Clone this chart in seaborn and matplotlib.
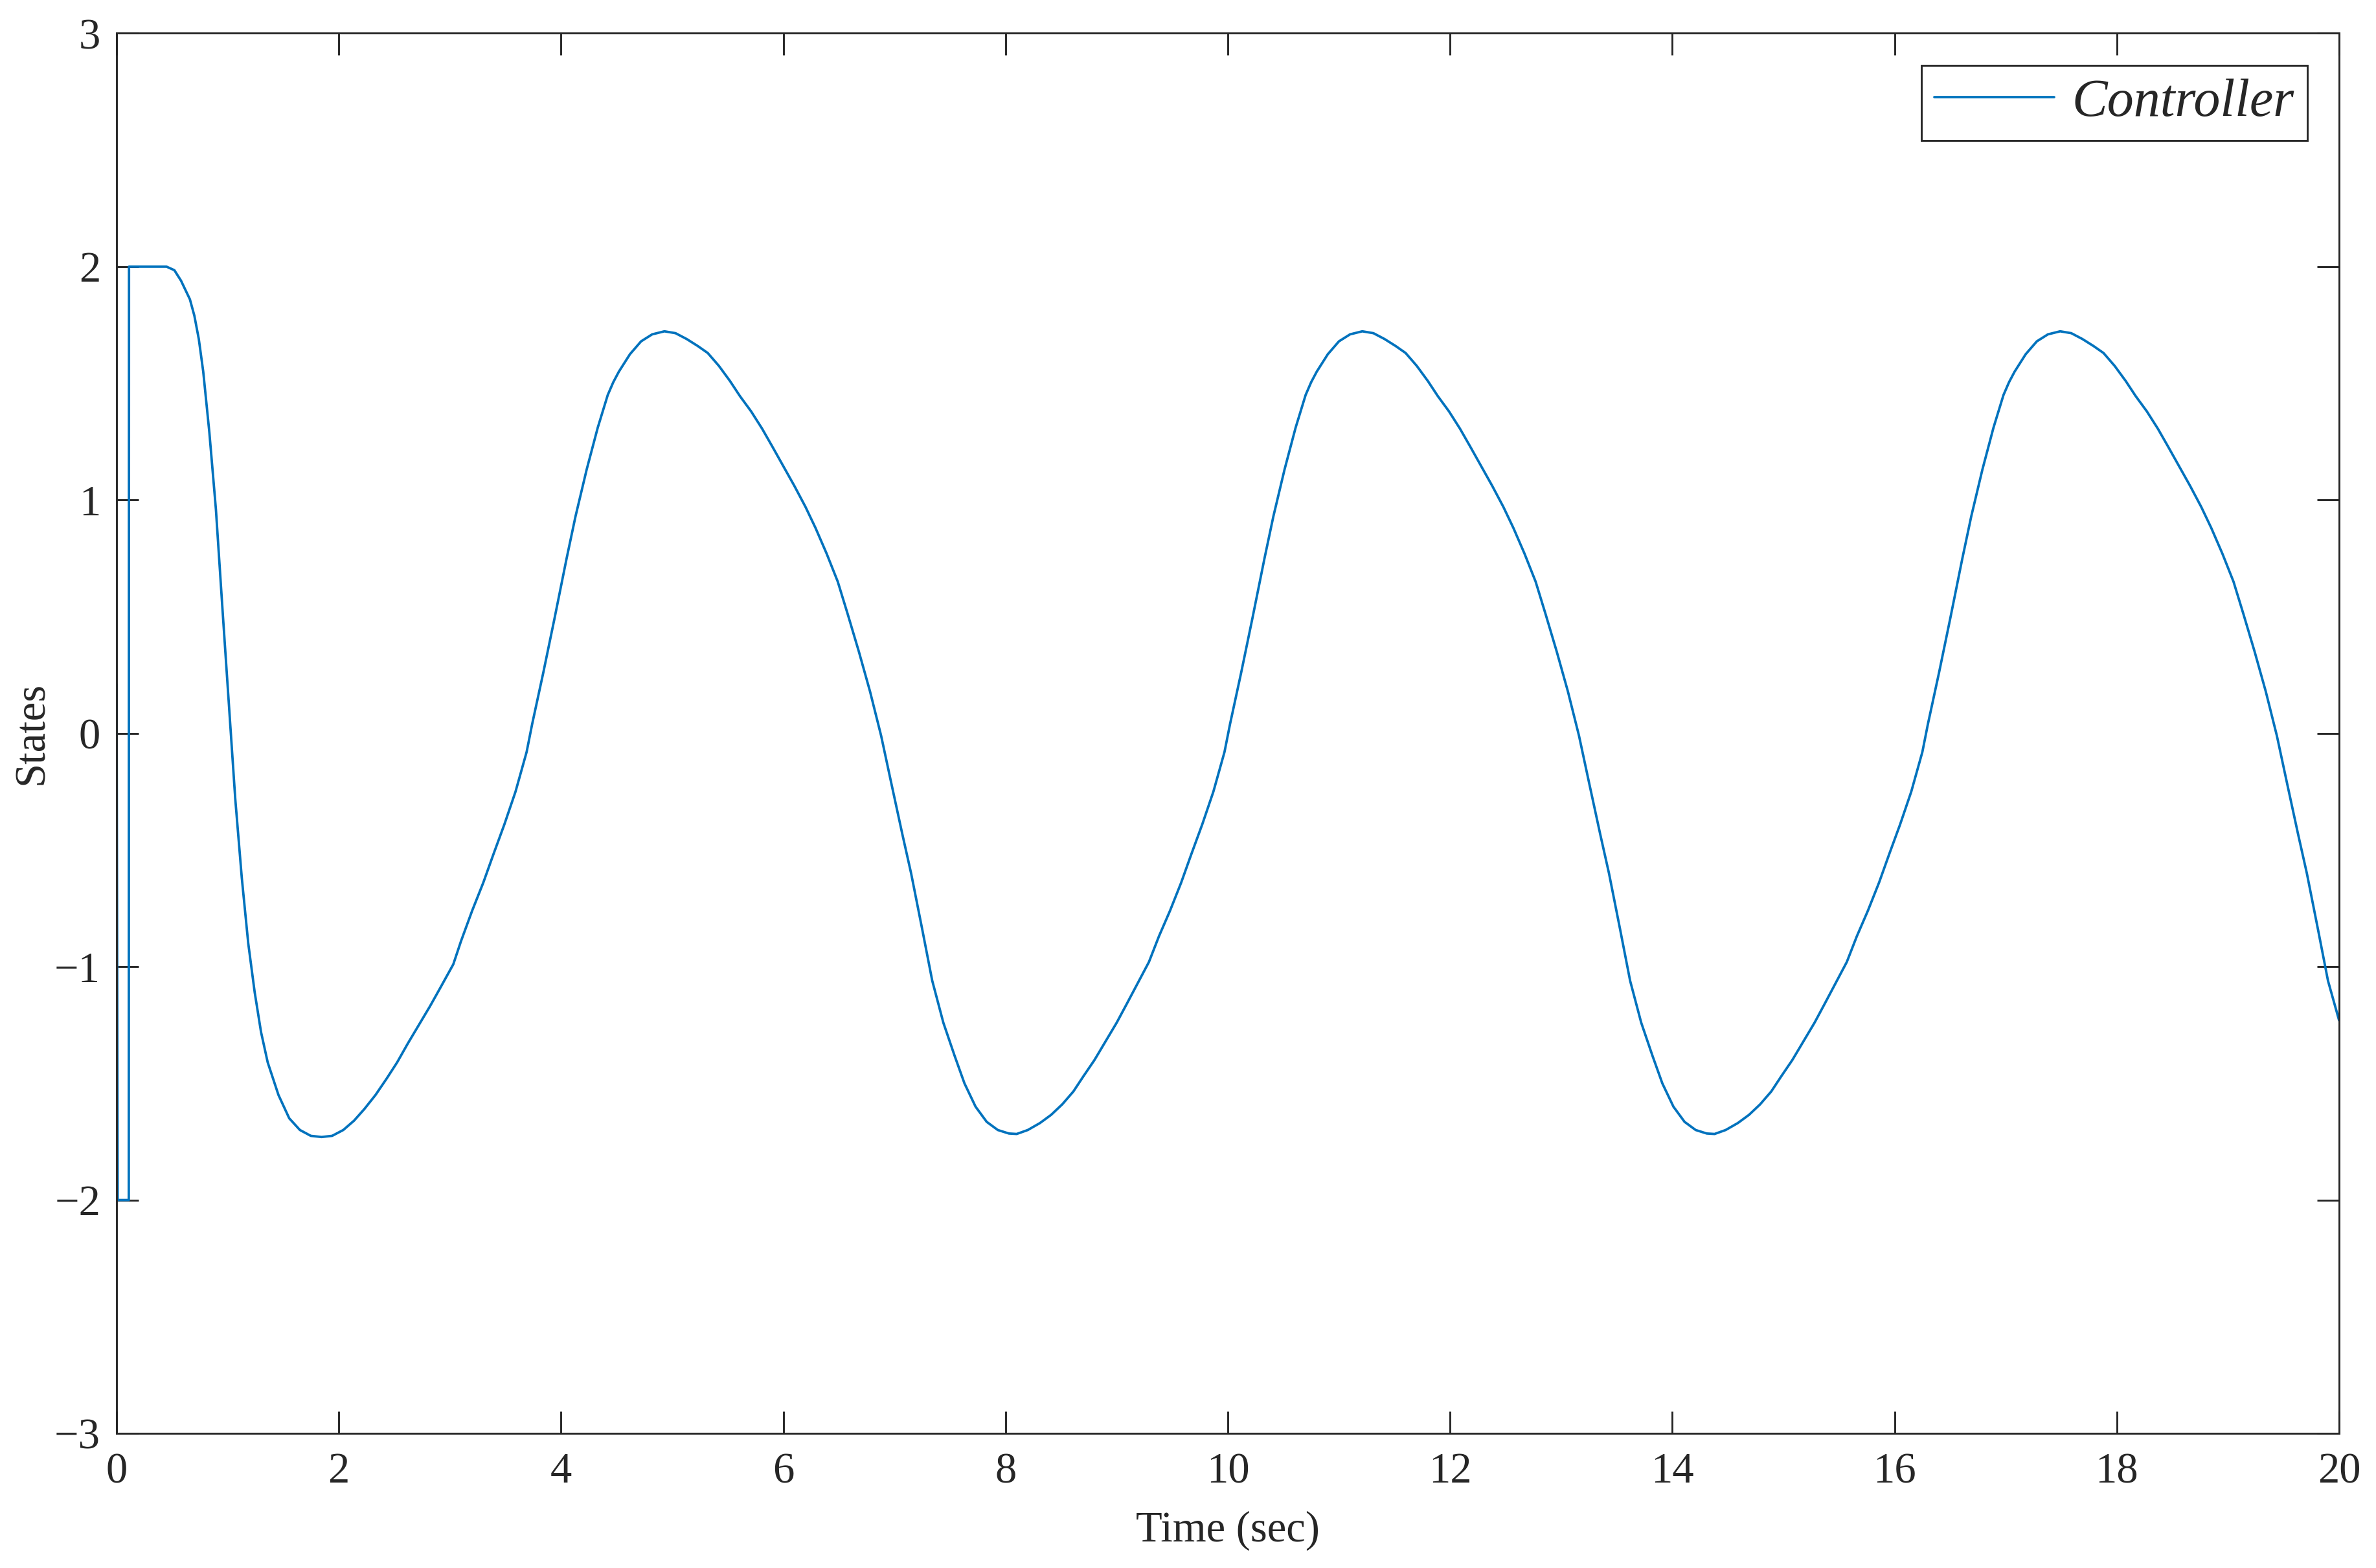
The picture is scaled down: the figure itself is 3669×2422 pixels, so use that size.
import matplotlib
matplotlib.use("Agg")
import matplotlib.pyplot as plt
import pandas as pd
import seaborn as sns

# time samples (s) and controller state
time_s = [
    0.000, 0.010, 0.110, 0.112, 0.300, 0.450, 0.520, 0.580, 0.620, 0.660,
    0.700, 0.740, 0.780, 0.835, 0.894, 0.952, 1.010, 1.068, 1.127, 1.185,
    1.243, 1.300, 1.360, 1.457, 1.554, 1.650, 1.748, 1.845, 1.940, 2.040,
    2.137, 2.230, 2.330, 2.430, 2.525, 2.620, 2.720, 2.820, 2.914, 3.030,
    3.100, 3.200, 3.300, 3.390, 3.490, 3.590, 3.690, 3.740, 3.840, 3.940,
    4.050, 4.130, 4.230, 4.330, 4.420, 4.470, 4.520, 4.620, 4.720, 4.820, 4.930,
    5.03, 5.13, 5.23, 5.32, 5.42, 5.52, 5.61, 5.71, 5.81, 5.90,
    6.00, 6.10, 6.20, 6.29, 6.39, 6.49, 6.58, 6.68, 6.78, 6.88,
    6.97, 7.07, 7.15, 7.25, 7.34, 7.44, 7.54, 7.63, 7.73, 7.83,
    7.93, 8.03, 8.10, 8.20, 8.31, 8.41, 8.51, 8.61, 8.70, 8.80,
    8.90, 9.00, 9.09, 9.19, 9.29, 9.38, 9.48, 9.58, 9.67, 9.77,
    9.87, 9.97, 10.02, 10.12, 10.22, 10.33, 10.41, 10.51, 10.61, 10.70,
    10.75, 10.80, 10.90, 11.00, 11.10, 11.21,
    11.31, 11.41, 11.51, 11.60, 11.70, 11.80, 11.89, 11.99, 12.09, 12.18,
    12.28, 12.38, 12.48, 12.57, 12.67, 12.77, 12.86, 12.96, 13.06, 13.16,
    13.25, 13.35, 13.43, 13.53, 13.62, 13.72, 13.82, 13.91, 14.01, 14.11,
    14.21, 14.31, 14.38, 14.48, 14.59, 14.69, 14.79, 14.89, 14.98, 15.08,
    15.18, 15.28, 15.37, 15.47, 15.57, 15.66, 15.76, 15.86, 15.95, 16.05,
    16.15, 16.25, 16.30, 16.40, 16.50, 16.61, 16.69, 16.79, 16.89, 16.98,
    17.03, 17.08, 17.18, 17.28, 17.38, 17.49,
    17.59, 17.69, 17.79, 17.88, 17.98, 18.08, 18.17, 18.27, 18.37, 18.46,
    18.56, 18.66, 18.76, 18.85, 18.95, 19.05, 19.14, 19.24, 19.34, 19.44,
    19.53, 19.63, 19.71, 19.81, 19.90, 20.00,
]

controller = [
    0.21, -2.00, -2.00, 2.00, 2.00, 2.00, 1.985, 1.94, 1.90, 1.86,
    1.79, 1.69, 1.55, 1.29, 0.96, 0.54, 0.13, -0.28, -0.62, -0.90,
    -1.11, -1.28, -1.41, -1.55, -1.65, -1.70, -1.725, -1.73, -1.725, -1.70,
    -1.66, -1.61, -1.55, -1.48, -1.41, -1.33, -1.25, -1.17, -1.09, -0.99,
    -0.89, -0.76, -0.64, -0.52, -0.39, -0.25, -0.08, 0.04, 0.26, 0.49,
    0.75, 0.93, 1.13, 1.31, 1.45, 1.505, 1.55, 1.625, 1.68, 1.71, 1.723,
    1.715, 1.69, 1.66, 1.63, 1.575, 1.51, 1.445, 1.38, 1.305, 1.23,
    1.145, 1.06, 0.97, 0.88, 0.77, 0.65, 0.51, 0.35, 0.18, -0.01,
    -0.21, -0.43, -0.60, -0.84, -1.06, -1.24, -1.38, -1.50, -1.60, -1.665,
    -1.70, -1.715, -1.717, -1.70, -1.67, -1.635, -1.59, -1.535, -1.47, -1.40,
    -1.32, -1.24, -1.16, -1.07, -0.98, -0.87, -0.76, -0.64, -0.52, -0.39,
    -0.25, -0.08, 0.04, 0.26, 0.49, 0.75, 0.93, 1.13, 1.31, 1.45,
    1.505, 1.55, 1.625, 1.68, 1.71, 1.723,
    1.715, 1.69, 1.66, 1.63, 1.575, 1.51, 1.445, 1.38, 1.305, 1.23,
    1.145, 1.06, 0.97, 0.88, 0.77, 0.65, 0.51, 0.35, 0.18, -0.01,
    -0.21, -0.43, -0.60, -0.84, -1.06, -1.24, -1.38, -1.50, -1.60, -1.665,
    -1.70, -1.715, -1.717, -1.70, -1.67, -1.635, -1.59, -1.535, -1.47, -1.40,
    -1.32, -1.24, -1.16, -1.07, -0.98, -0.87, -0.76, -0.64, -0.52, -0.39,
    -0.25, -0.08, 0.04, 0.26, 0.49, 0.75, 0.93, 1.13, 1.31, 1.45,
    1.505, 1.55, 1.625, 1.68, 1.71, 1.723,
    1.715, 1.69, 1.66, 1.63, 1.575, 1.51, 1.445, 1.38, 1.305, 1.23,
    1.145, 1.06, 0.97, 0.88, 0.77, 0.65, 0.51, 0.35, 0.18, -0.01,
    -0.21, -0.43, -0.60, -0.84, -1.06, -1.23,
]

x_ticks = [0, 2, 4, 6, 8, 10, 12, 14, 16, 18, 20]
y_ticks = [-3, -2, -1, 0, 1, 2, 3]


def main() -> None:
    sns.set_theme(style="white")
    plt.rcParams["font.family"] = ["Liberation Serif", "DejaVu Serif"]
    plt.rcParams["axes.unicode_minus"] = True

    axis_col = "#262626"
    df = pd.DataFrame({"t": time_s, "state": controller})

    fig = plt.figure(figsize=(3670 / 300, 2422 / 300), dpi=300)
    ax = fig.add_axes([180 / 3670, 1 - 2214 / 2422, 3432 / 3670, 2162.5 / 2422])

    sns.lineplot(
        data=df, x="t", y="state", ax=ax, sort=False, estimator=None,
        color="#0072BD", linewidth=0.9, label="Controller",
    )

    ax.set_xlim(0, 20)
    ax.set_ylim(-3, 3)
    ax.set_xticks(x_ticks)
    ax.set_yticks(y_ticks)
    ax.tick_params(
        direction="in", length=8.2, width=0.7, colors=axis_col, labelsize=16,
        top=True, right=True, bottom=True, left=True,
    )
    ax.tick_params(axis="x", pad=7)
    ax.tick_params(axis="y", pad=6)
    for sp in ax.spines.values():
        sp.set_color(axis_col)
        sp.set_linewidth(0.7)

    ax.set_xlabel("Time (sec)", fontsize=16, color=axis_col, labelpad=7)
    ax.set_ylabel("States", fontsize=16, color=axis_col, labelpad=1)

    leg = ax.legend(
        loc="upper right", frameon=True, fancybox=False, framealpha=1,
        edgecolor=axis_col, borderpad=0.25, handlelength=2.25,
        handletextpad=0.33, borderaxespad=0.6,
        prop={"family": "Liberation Serif", "style": "italic", "size": 19.7},
    )
    leg.get_frame().set_linewidth(0.7)

    fig.savefig("out.png", dpi=300, facecolor="white")


if __name__ == "__main__":
    main()
